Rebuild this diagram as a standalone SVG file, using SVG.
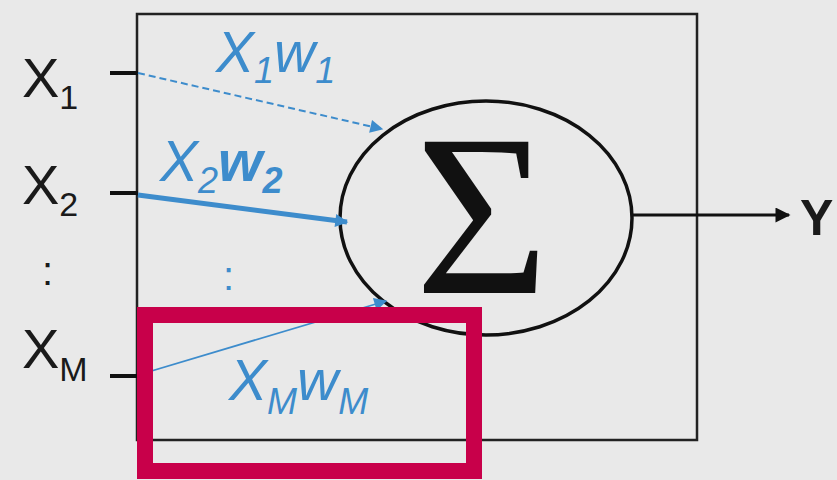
<svg xmlns="http://www.w3.org/2000/svg" width="837" height="480" viewBox="0 0 837 480">
<defs>
<style>
.lbl{font-family:"Liberation Sans","Open Sans",sans-serif;fill:#1a1a1a;}
.wt{font-family:"Liberation Sans","Open Sans",sans-serif;font-style:italic;fill:#3d8ccc;}
.dots{font-family:"Liberation Sans","Open Sans",sans-serif;fill:#3d8ccc;}
.stub{stroke:#111;stroke-width:4;}
.blue{stroke:#3d8ccc;fill:none;}
</style>
<marker id="ab" viewBox="0 0 10 10" refX="9" refY="5" markerWidth="15" markerHeight="13" markerUnits="userSpaceOnUse" orient="auto">
<path d="M0,0 L10,5 L0,10 z" fill="#3d8ccc"/>
</marker>
<marker id="abk" viewBox="0 0 10 10" refX="9" refY="5" markerWidth="18" markerHeight="15" markerUnits="userSpaceOnUse" orient="auto">
<path d="M0,0 L10,5 L0,10 z" fill="#111"/>
</marker>
</defs>
<rect width="837" height="480" fill="#e9e9e9"/>
<g id="box">
<rect x="137" y="14" width="560" height="426" fill="none" stroke="#222" stroke-width="2.5"/>
</g>
<g id="inputs">
<text class="lbl" x="22" y="97" font-size="56">X<tspan font-size="34" dy="12">1</tspan></text>
<text class="lbl" x="22" y="204" font-size="56">X<tspan font-size="34" dy="12">2</tspan></text>
<text class="lbl" x="42" y="285" font-size="40">:</text>
<text class="lbl" x="22" y="368" font-size="56">X<tspan font-size="34" dy="13">M</tspan></text>
<line class="stub" x1="110" y1="73" x2="138" y2="73"/>
<line class="stub" x1="110" y1="193" x2="138" y2="193"/>
<line class="stub" x1="110" y1="376" x2="138" y2="376"/>
</g>
<g id="sum">
<ellipse cx="486" cy="218" rx="146" ry="117" fill="none" stroke="#111" stroke-width="3.5"/>
<text x="482" y="293" font-size="230" text-anchor="middle" font-family="Liberation Serif,serif" fill="#111">Σ</text>
</g>
<g id="output">
<text class="lbl" x="800" y="235" font-size="50" font-weight="bold">Y</text>
</g>
<g id="connectors">
<line class="blue" x1="138" y1="73" x2="382" y2="129" stroke-width="2" stroke-dasharray="7,4" marker-end="url(#ab)"/>
<line class="blue" x1="138" y1="195" x2="347" y2="222" stroke-width="5" marker-end="url(#ab)"/>
<line class="blue" x1="138" y1="375" x2="386" y2="301" stroke-width="1.8" marker-end="url(#ab)"/>
<line x1="632" y1="215" x2="789" y2="215" stroke="#111" stroke-width="3" marker-end="url(#abk)"/>
</g>
<g id="weights">
<text class="wt" x="216" y="72" font-size="57">X<tspan font-size="36" dy="11">1</tspan><tspan dy="-11">w</tspan><tspan font-size="36" dy="11">1</tspan></text>
<text class="wt" x="160" y="181" font-size="57">X<tspan font-size="36" dy="12">2</tspan><tspan dy="-12" font-weight="bold">w</tspan><tspan font-size="36" font-weight="bold" dy="12">2</tspan></text>
<text class="dots" x="223" y="290" font-size="40">:</text>
<text class="wt" x="229" y="400" font-size="57">X<tspan font-size="36" dy="14">M</tspan><tspan dy="-14">w</tspan><tspan font-size="36" dy="14">M</tspan></text>
</g>
<g id="highlight">
<rect x="145" y="315" width="329" height="156" fill="none" stroke="#c8004a" stroke-width="16"/>
</g>
</svg>
